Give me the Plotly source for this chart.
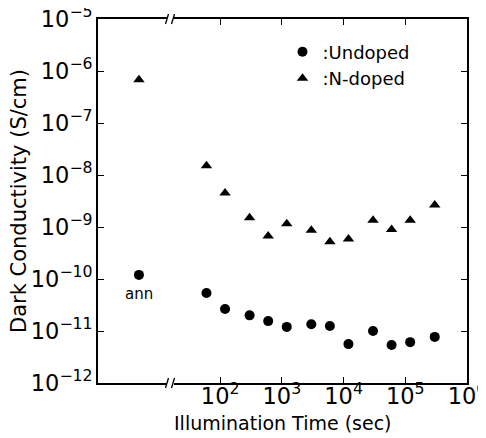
import plotly.graph_objects as go

# ---- data ----
time_sec = [60, 120, 300, 600, 1200, 3000, 6000, 12000, 30000, 60000, 120000, 300000]
undoped = [5.4e-11, 2.65e-11, 2.0e-11, 1.55e-11, 1.2e-11, 1.35e-11, 1.25e-11,
           5.6e-12, 1.0e-11, 5.4e-12, 6.1e-12, 7.7e-12]
ndoped = [1.5e-8, 4.5e-9, 1.5e-9, 6.7e-10, 1.15e-9, 8.7e-10, 5.2e-10,
          5.9e-10, 1.35e-9, 9.0e-10, 1.35e-9, 2.65e-9]
ann_label = ["ann"]
ann_undoped = [1.2e-10]
ann_ndoped = [6.8e-7]

FONT = "DejaVu Sans"
BLACK = "black"

fig = go.Figure()

# annealed state (left segment of the broken axis)
fig.add_trace(go.Scatter(x=ann_label, y=ann_undoped, xaxis="x", yaxis="y",
                         mode="markers", showlegend=False, legendgroup="u",
                         marker=dict(symbol="circle", size=10, color=BLACK)))
fig.add_trace(go.Scatter(x=ann_label, y=ann_ndoped, xaxis="x", yaxis="y",
                         mode="markers", showlegend=False, legendgroup="n",
                         marker=dict(symbol="triangle-up", size=10, color=BLACK)))

# illumination series (right segment)
fig.add_trace(go.Scatter(x=time_sec, y=undoped, xaxis="x2", yaxis="y",
                         mode="markers", name=":Undoped", legendgroup="u",
                         marker=dict(symbol="circle", size=10, color=BLACK)))
fig.add_trace(go.Scatter(x=time_sec, y=ndoped, xaxis="x2", yaxis="y2",
                         mode="markers", name=":N-doped", legendgroup="n",
                         marker=dict(symbol="triangle-up", size=10, color=BLACK)))

FIG_W, FIG_H = 486, 438
ML, MR, MT, MB = 90, 27, 11, 63
PW, PH = FIG_W - ML - MR, FIG_H - MT - MB  # plot area size in px

def px2paper_x(px):  # px measured from the plot-area left edge
    return px / PW

left_end = px2paper_x(69.4)
right_start = px2paper_x(76)
YR = [-12, -4.9999]

fig.update_layout(
    width=FIG_W, height=FIG_H,
    margin=dict(l=ML, r=MR, t=MT, b=MB, autoexpand=False),
    paper_bgcolor="white", plot_bgcolor="white",
    font=dict(family=FONT, size=18, color=BLACK),
    xaxis=dict(domain=[0, left_end], type="category", range=[-0.59, 0.41],
               anchor="y", showline=True, linecolor=BLACK, linewidth=1.5,
               mirror=True, ticks="", showticklabels=False, showgrid=False,
               zeroline=False, automargin=False),
    xaxis2=dict(domain=[right_start, 1], type="log", range=[1.252, 6.0001], dtick=1,
                anchor="y", showline=True, linecolor=BLACK, linewidth=1.5,
                mirror="ticks", ticks="inside", ticklen=6, tickwidth=1.3,
                tickcolor=BLACK, exponentformat="power", showgrid=False,
                zeroline=False, ticklabelstandoff=-7, ticklabeloverflow="allow",
                automargin=False, tickfont=dict(family=FONT, size=18)),
    yaxis=dict(type="log", range=YR, dtick=1, anchor="x", side="left",
               showline=True, linecolor=BLACK, linewidth=1.5, ticks="inside",
               ticklen=6, tickwidth=1.3, tickcolor=BLACK,
               exponentformat="power", showgrid=False, zeroline=False,
               ticklabeloverflow="allow", automargin=False,
               tickfont=dict(family=FONT, size=18)),
    yaxis2=dict(type="log", range=YR, dtick=1, overlaying="y",
                anchor="x2", side="right", showline=True, linecolor=BLACK,
                linewidth=1.5, ticks="inside", ticklen=6, tickwidth=1.3,
                tickcolor=BLACK, showticklabels=False, showgrid=False,
                zeroline=False, automargin=False),
    legend=dict(x=0.5, y=0.96, xanchor="left", yanchor="top",
                bgcolor="rgba(0,0,0,0)", font=dict(family=FONT, size=18),
                itemwidth=30, tracegroupgap=0),
    annotations=[
        dict(x=ann_label[0], y=-9.92, xref="x", yref="y", text="ann",
             showarrow=False, yshift=-19, font=dict(family=FONT, size=15)),
        dict(x=0.5, y=0, xref="paper", yref="paper", yanchor="top",
             text="Illumination Time (sec)", showarrow=False, yshift=-27,
             font=dict(family=FONT, size=19)),
        dict(x=-79 / PW, y=0.5, xref="paper", yref="paper", xanchor="center",
             yanchor="middle", text="Dark Conductivity (S/cm)", textangle=-90,
             showarrow=False, font=dict(family=FONT, size=21)),
    ],
)

# axis break marks
shapes = []
for yp in (0, 1):
    for xpx in (67.5, 73.5):
        shapes.append(dict(type="line", xref="paper", yref="paper",
                           x0=px2paper_x(xpx), x1=px2paper_x(xpx + 3),
                           y0=yp - 5 / PH, y1=yp + 5 / PH,
                           line=dict(color=BLACK, width=1.3)))
fig.update_layout(shapes=shapes)

fig.write_html("out.html")
